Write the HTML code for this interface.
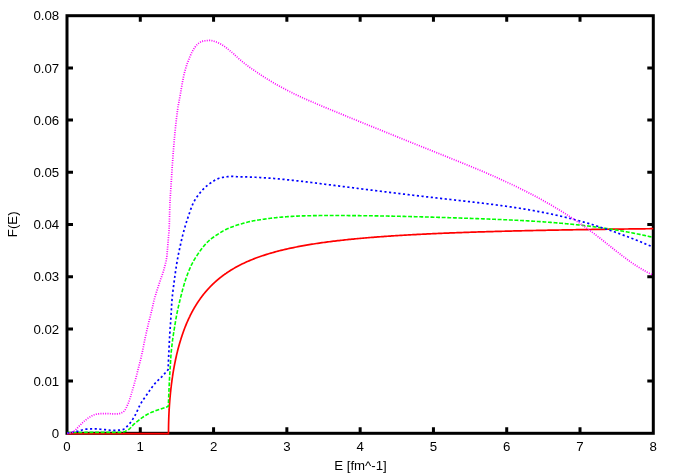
<!DOCTYPE html>
<html><head><meta charset="utf-8"><title>F(E)</title>
<style>
html,body{margin:0;padding:0;background:#fff;}
body{width:676px;height:473px;overflow:hidden;}
svg{display:block;will-change:transform;}
text{font-family:"Liberation Sans",sans-serif;font-size:13.25px;fill:#000;}
</style></head>
<body>
<svg width="676" height="473" viewBox="0 0 676 473">
<rect x="0" y="0" width="676" height="473" fill="#ffffff"/>
<g fill="none" stroke="#000" stroke-width="3" stroke-linecap="butt">
<path d="M140.29,433.30V427.30M140.29,15.70V21.70M213.57,433.30V427.30M213.57,15.70V21.70M286.86,433.30V427.30M286.86,15.70V21.70M360.15,433.30V427.30M360.15,15.70V21.70M433.44,433.30V427.30M433.44,15.70V21.70M506.72,433.30V427.30M506.72,15.70V21.70M580.01,433.30V427.30M580.01,15.70V21.70M67.00,381.10H73.00M653.30,381.10H647.30M67.00,328.90H73.00M653.30,328.90H647.30M67.00,276.70H73.00M653.30,276.70H647.30M67.00,224.50H73.00M653.30,224.50H647.30M67.00,172.30H73.00M653.30,172.30H647.30M67.00,120.10H73.00M653.30,120.10H647.30M67.00,67.90H73.00M653.30,67.90H647.30"/>
<rect x="67.0" y="15.7" width="586.30" height="417.60"/>
</g>
<g fill="none" stroke-linejoin="round" stroke-linecap="butt">
<path d="M67.00,433.70 L168.50,433.70 L168.50,433.27 L168.50,433.22 L168.50,433.15 L168.50,433.07 L168.50,432.98 L168.50,432.88 L168.50,432.78 L168.50,432.66 L168.50,432.54 L168.50,432.41 L168.50,432.27 L168.50,432.12 L168.51,431.97 L168.51,431.82 L168.51,431.66 L168.51,431.49 L168.51,431.32 L168.51,431.14 L168.51,430.96 L168.51,430.77 L168.51,430.58 L168.51,430.38 L168.51,430.18 L168.52,429.98 L168.52,429.77 L168.52,429.55 L168.52,429.33 L168.52,429.11 L168.53,428.88 L168.53,428.65 L168.53,428.42 L168.53,428.18 L168.54,427.94 L168.54,427.70 L168.54,427.45 L168.55,427.19 L168.55,426.94 L168.55,426.68 L168.56,426.42 L168.56,426.15 L168.57,425.88 L168.57,425.61 L168.58,425.33 L168.58,425.05 L168.59,424.77 L168.59,424.48 L168.60,424.19 L168.61,423.90 L168.61,423.61 L168.62,423.31 L168.63,423.01 L168.64,422.71 L168.64,422.40 L168.65,422.09 L168.66,421.78 L168.67,421.46 L168.68,421.15 L168.69,420.83 L168.70,420.50 L168.71,420.18 L168.72,419.85 L168.73,419.52 L168.74,419.18 L168.75,418.85 L168.76,418.51 L168.77,418.17 L168.79,417.82 L168.80,417.48 L168.81,417.13 L168.83,416.78 L168.84,416.42 L168.85,416.07 L168.87,415.71 L168.88,415.35 L168.90,414.99 L168.92,414.62 L168.93,414.25 L168.95,413.88 L168.97,413.51 L168.98,413.14 L169.00,412.76 L169.02,412.38 L169.04,412.00 L169.06,411.62 L169.08,411.23 L169.10,410.85 L169.12,410.46 L169.14,410.07 L169.17,409.67 L169.19,409.28 L169.21,408.88 L169.24,408.48 L169.26,408.08 L169.28,407.68 L169.31,407.27 L169.34,406.86 L169.36,406.45 L169.39,406.04 L169.42,405.63 L169.44,405.22 L169.47,404.80 L169.50,404.38 L169.53,403.96 L169.56,403.54 L169.59,403.12 L169.62,402.69 L169.66,402.26 L169.69,401.84 L169.72,401.41 L169.75,400.97 L169.79,400.54 L169.82,400.10 L169.86,399.67 L169.90,399.23 L169.93,398.79 L169.97,398.35 L170.01,397.90 L170.05,397.46 L170.09,397.01 L170.13,396.57 L170.17,396.12 L170.21,395.67 L170.25,395.21 L170.30,394.76 L170.34,394.31 L170.38,393.85 L170.43,393.39 L170.48,392.93 L170.52,392.47 L170.57,392.01 L170.62,391.55 L170.67,391.08 L170.72,390.62 L170.77,390.15 L170.82,389.68 L170.87,389.22 L170.92,388.75 L170.97,388.27 L171.03,387.80 L171.08,387.33 L171.14,386.85 L171.20,386.38 L171.25,385.90 L171.31,385.42 L171.37,384.94 L171.43,384.46 L171.49,383.98 L171.55,383.50 L171.61,383.02 L171.68,382.53 L171.74,382.05 L171.81,381.56 L171.87,381.07 L171.94,380.58 L172.00,380.10 L172.07,379.61 L172.14,379.12 L172.21,378.62 L172.28,378.13 L172.35,377.64 L172.43,377.15 L172.50,376.65 L172.58,376.16 L172.65,375.66 L172.73,375.16 L172.80,374.67 L172.88,374.17 L172.96,373.67 L173.04,373.17 L173.12,372.67 L173.20,372.17 L173.29,371.67 L173.37,371.17 L173.46,370.66 L173.54,370.16 L173.63,369.66 L173.72,369.15 L173.81,368.65 L173.90,368.14 L173.99,367.64 L174.08,367.13 L174.17,366.63 L174.27,366.12 L174.36,365.61 L174.46,365.11 L174.55,364.60 L174.65,364.09 L174.75,363.58 L174.85,363.07 L174.95,362.57 L175.06,362.06 L175.16,361.55 L175.26,361.04 L175.37,360.53 L175.48,360.02 L175.58,359.51 L175.69,359.00 L175.80,358.49 L175.91,357.98 L176.03,357.47 L176.14,356.96 L176.25,356.45 L176.37,355.93 L176.49,355.42 L176.60,354.91 L176.72,354.40 L176.84,353.89 L176.96,353.38 L177.09,352.87 L177.21,352.36 L177.34,351.85 L177.46,351.34 L177.59,350.83 L177.72,350.32 L177.85,349.81 L177.98,349.30 L178.11,348.79 L178.24,348.28 L178.38,347.77 L178.52,347.26 L178.65,346.75 L178.79,346.24 L178.93,345.74 L179.07,345.23 L179.21,344.72 L179.36,344.21 L179.50,343.71 L179.65,343.20 L179.80,342.69 L179.94,342.19 L180.09,341.68 L180.24,341.18 L180.40,340.67 L180.55,340.17 L180.71,339.67 L180.86,339.16 L181.02,338.66 L181.18,338.16 L181.34,337.66 L181.50,337.16 L181.67,336.66 L181.83,336.16 L182.00,335.66 L182.16,335.16 L182.33,334.66 L182.50,334.16 L182.67,333.67 L182.85,333.17 L183.02,332.67 L183.20,332.18 L183.37,331.69 L183.55,331.19 L183.73,330.70 L183.91,330.21 L184.09,329.72 L184.28,329.23 L184.46,328.74 L184.65,328.25 L184.84,327.76 L185.03,327.28 L185.22,326.79 L185.41,326.30 L185.61,325.82 L185.80,325.34 L186.00,324.85 L186.20,324.37 L186.40,323.89 L186.60,323.41 L186.81,322.93 L187.01,322.46 L187.22,321.98 L187.43,321.50 L187.64,321.03 L187.85,320.55 L188.06,320.08 L188.27,319.61 L188.49,319.14 L188.71,318.67 L188.92,318.20 L189.14,317.73 L189.37,317.27 L189.59,316.80 L189.82,316.34 L190.04,315.87 L190.27,315.41 L190.50,314.95 L190.73,314.49 L190.97,314.03 L191.20,313.58 L191.44,313.12 L191.67,312.66 L191.91,312.21 L192.16,311.76 L192.40,311.31 L192.64,310.86 L192.89,310.41 L193.14,309.96 L193.39,309.51 L193.64,309.07 L193.89,308.62 L194.15,308.18 L194.40,307.74 L194.66,307.30 L194.92,306.86 L195.18,306.42 L195.45,305.99 L195.71,305.55 L195.98,305.12 L196.25,304.69 L196.52,304.26 L196.79,303.83 L197.06,303.40 L197.34,302.97 L197.61,302.55 L197.89,302.12 L198.17,301.70 L198.46,301.28 L198.74,300.86 L199.03,300.44 L199.32,300.03 L199.60,299.61 L199.90,299.20 L200.19,298.78 L200.49,298.37 L200.78,297.96 L201.08,297.56 L201.38,297.15 L201.68,296.74 L201.99,296.34 L202.29,295.94 L202.60,295.54 L202.91,295.14 L203.22,294.74 L203.54,294.34 L203.85,293.95 L204.17,293.56 L204.49,293.16 L204.81,292.77 L205.14,292.38 L205.46,292.00 L205.79,291.61 L206.12,291.23 L206.45,290.84 L206.78,290.46 L207.12,290.08 L207.45,289.70 L207.79,289.33 L208.13,288.95 L208.47,288.58 L208.82,288.21 L209.17,287.84 L209.51,287.47 L209.86,287.10 L210.22,286.73 L210.57,286.37 L210.93,286.01 L211.29,285.65 L211.65,285.29 L212.01,284.93 L212.37,284.57 L212.74,284.22 L213.11,283.86 L213.48,283.51 L213.85,283.16 L214.23,282.81 L214.60,282.46 L214.98,282.12 L215.36,281.77 L215.75,281.43 L216.13,281.09 L216.52,280.75 L216.91,280.41 L217.30,280.08 L217.69,279.74 L218.09,279.41 L218.49,279.08 L218.89,278.75 L219.29,278.42 L219.69,278.09 L220.10,277.77 L220.51,277.44 L220.92,277.12 L221.33,276.80 L221.75,276.48 L222.16,276.16 L222.58,275.85 L223.00,275.53 L223.43,275.22 L223.85,274.91 L224.28,274.60 L224.71,274.29 L225.14,273.98 L225.58,273.68 L226.02,273.38 L226.45,273.07 L226.90,272.77 L227.34,272.47 L227.78,272.18 L228.23,271.88 L229.65,270.96 L231.08,270.07 L232.50,269.21 L233.92,268.37 L235.34,267.56 L236.76,266.77 L238.18,266.01 L239.61,265.26 L241.03,264.54 L242.45,263.84 L243.87,263.16 L245.29,262.50 L246.71,261.85 L248.14,261.23 L249.56,260.62 L250.98,260.02 L252.40,259.45 L253.82,258.88 L255.24,258.33 L256.67,257.80 L258.09,257.28 L259.51,256.77 L260.93,256.27 L262.35,255.79 L263.77,255.32 L265.19,254.86 L266.62,254.41 L268.04,253.97 L269.46,253.54 L270.88,253.12 L272.30,252.71 L273.72,252.31 L275.15,251.92 L276.57,251.54 L277.99,251.17 L279.41,250.80 L280.83,250.44 L282.25,250.09 L283.68,249.75 L285.10,249.42 L286.52,249.09 L287.94,248.77 L289.36,248.45 L290.78,248.14 L292.21,247.84 L293.63,247.55 L295.05,247.26 L296.47,246.97 L297.89,246.70 L299.31,246.42 L300.74,246.16 L302.16,245.89 L303.58,245.64 L305.00,245.39 L306.42,245.14 L307.84,244.90 L309.27,244.66 L310.69,244.42 L312.11,244.20 L313.53,243.97 L314.95,243.75 L316.37,243.53 L317.80,243.32 L319.22,243.11 L320.64,242.91 L322.06,242.70 L323.48,242.51 L324.90,242.31 L326.32,242.12 L327.75,241.93 L329.17,241.75 L330.59,241.57 L332.01,241.39 L333.43,241.21 L334.85,241.04 L336.28,240.87 L337.70,240.70 L339.12,240.54 L340.54,240.38 L341.96,240.22 L343.38,240.06 L344.81,239.91 L346.23,239.76 L347.65,239.61 L349.07,239.46 L350.49,239.32 L351.91,239.18 L353.34,239.04 L354.76,238.90 L356.18,238.76 L357.60,238.63 L359.02,238.50 L360.44,238.37 L361.87,238.24 L363.29,238.12 L364.71,237.99 L366.13,237.87 L367.55,237.75 L368.97,237.63 L370.40,237.52 L371.82,237.40 L373.24,237.29 L374.66,237.18 L376.08,237.07 L377.50,236.96 L378.93,236.85 L380.35,236.75 L381.77,236.64 L383.19,236.54 L384.61,236.44 L386.03,236.34 L387.46,236.24 L388.88,236.14 L390.30,236.05 L391.72,235.95 L393.14,235.86 L394.56,235.77 L395.98,235.68 L397.41,235.59 L398.83,235.50 L400.25,235.42 L401.67,235.33 L403.09,235.25 L404.51,235.16 L405.94,235.08 L407.36,235.00 L408.78,234.92 L410.20,234.84 L411.62,234.76 L413.04,234.68 L414.47,234.61 L415.89,234.53 L417.31,234.46 L418.73,234.38 L420.15,234.31 L421.57,234.24 L423.00,234.17 L424.42,234.10 L425.84,234.03 L427.26,233.96 L428.68,233.89 L430.10,233.83 L431.53,233.76 L432.95,233.70 L434.37,233.63 L435.79,233.57 L437.21,233.51 L438.63,233.44 L440.06,233.38 L441.48,233.32 L442.90,233.26 L444.32,233.20 L445.74,233.14 L447.16,233.09 L448.59,233.03 L450.01,232.97 L451.43,232.92 L452.85,232.86 L454.27,232.81 L455.69,232.75 L457.12,232.70 L458.54,232.65 L459.96,232.59 L461.38,232.54 L462.80,232.49 L464.22,232.44 L465.64,232.39 L467.07,232.34 L468.49,232.29 L469.91,232.24 L471.33,232.20 L472.75,232.15 L474.17,232.10 L475.60,232.06 L477.02,232.01 L478.44,231.97 L479.86,231.92 L481.28,231.88 L482.70,231.83 L484.13,231.79 L485.55,231.75 L486.97,231.70 L488.39,231.66 L489.81,231.62 L491.23,231.58 L492.66,231.54 L494.08,231.50 L495.50,231.46 L496.92,231.42 L498.34,231.38 L499.76,231.34 L501.19,231.30 L502.61,231.26 L504.03,231.23 L505.45,231.19 L506.87,231.15 L508.29,231.11 L509.72,231.08 L511.14,231.04 L512.56,231.01 L513.98,230.97 L515.40,230.94 L516.82,230.90 L518.25,230.87 L519.67,230.83 L521.09,230.80 L522.51,230.77 L523.93,230.73 L525.35,230.70 L526.77,230.67 L528.20,230.64 L529.62,230.61 L531.04,230.58 L532.46,230.54 L533.88,230.51 L535.30,230.48 L536.73,230.45 L538.15,230.42 L539.57,230.39 L540.99,230.36 L542.41,230.33 L543.83,230.31 L545.26,230.28 L546.68,230.25 L548.10,230.22 L549.52,230.19 L550.94,230.17 L552.36,230.14 L553.79,230.11 L555.21,230.08 L556.63,230.06 L558.05,230.03 L559.47,230.00 L560.89,229.98 L562.32,229.95 L563.74,229.93 L565.16,229.90 L566.58,229.88 L568.00,229.85 L569.42,229.83 L570.85,229.80 L572.27,229.78 L573.69,229.76 L575.11,229.73 L576.53,229.71 L577.95,229.68 L579.38,229.66 L580.80,229.64 L582.22,229.62 L583.64,229.59 L585.06,229.57 L586.48,229.55 L587.90,229.53 L589.33,229.50 L590.75,229.48 L592.17,229.46 L593.59,229.44 L595.01,229.42 L596.43,229.40 L597.86,229.38 L599.28,229.36 L600.70,229.34 L602.12,229.32 L603.54,229.30 L604.96,229.28 L606.39,229.26 L607.81,229.24 L609.23,229.22 L610.65,229.20 L612.07,229.18 L613.49,229.16 L614.92,229.14 L616.34,229.12 L617.76,229.10 L619.18,229.08 L620.60,229.07 L622.02,229.05 L623.45,229.03 L624.87,229.01 L626.29,228.99 L627.71,228.98 L629.13,228.96 L630.55,228.94 L631.98,228.92 L633.40,228.91 L634.82,228.89 L636.24,228.87 L637.66,228.86 L639.08,228.84 L640.51,228.82 L641.93,228.81 L643.35,228.79 L644.77,228.78 L646.19,228.76 L647.61,228.74 L649.04,228.73 L650.46,228.71 L651.88,228.70 L653.30,228.68" stroke="#ff0000" stroke-width="1.7"/>
<path d="M67.10,432.50 L67.91,432.50 L68.71,432.49 L69.52,432.49 L70.32,432.48 L71.13,432.48 L71.93,432.48 L72.74,432.47 L73.54,432.47 L74.35,432.47 L75.15,432.46 L75.96,432.46 L76.76,432.46 L77.57,432.45 L78.37,432.45 L79.18,432.45 L79.98,432.44 L80.79,432.44 L81.59,432.44 L82.40,432.43 L83.20,432.43 L84.01,432.43 L84.81,432.43 L85.62,432.42 L86.42,432.42 L87.23,432.42 L88.03,432.42 L88.84,432.41 L89.64,432.41 L90.45,432.41 L91.25,432.41 L92.06,432.41 L92.86,432.41 L93.67,432.40 L94.47,432.40 L95.28,432.40 L96.08,432.40 L96.89,432.40 L97.69,432.40 L98.50,432.40 L99.30,432.40 L100.11,432.40 L100.91,432.40 L101.72,432.40 L102.52,432.40 L103.33,432.40 L104.13,432.40 L104.94,432.40 L105.74,432.40 L106.55,432.40 L107.35,432.40 L108.16,432.40 L108.97,432.40 L109.77,432.40 L110.58,432.40 L111.38,432.40 L112.19,432.40 L112.99,432.40 L113.80,432.40 L114.60,432.40 L115.41,432.40 L116.21,432.40 L117.01,432.40 L117.82,432.40 L118.63,432.39 L119.44,432.37 L120.25,432.33 L121.05,432.28 L121.85,432.22 L122.63,432.13 L123.42,431.97 L124.20,431.73 L124.98,431.43 L125.74,431.10 L126.47,430.74 L127.18,430.37 L127.85,430.00 L128.49,429.58 L129.10,429.10 L129.70,428.58 L130.29,428.02 L130.86,427.44 L131.42,426.84 L131.98,426.23 L132.55,425.62 L133.12,425.02 L133.69,424.43 L134.29,423.88 L134.90,423.35 L135.51,422.83 L136.13,422.31 L136.75,421.79 L137.37,421.28 L138.00,420.78 L138.63,420.28 L139.27,419.78 L139.91,419.29 L140.56,418.82 L141.21,418.35 L141.86,417.89 L142.53,417.43 L143.19,416.97 L143.86,416.52 L144.54,416.08 L145.22,415.64 L145.91,415.21 L146.60,414.80 L147.30,414.40 L148.00,414.01 L148.71,413.64 L149.43,413.29 L150.15,412.95 L150.88,412.62 L151.62,412.30 L152.37,411.99 L153.11,411.69 L153.87,411.39 L154.62,411.10 L155.38,410.81 L156.14,410.53 L156.89,410.26 L157.65,409.98 L158.41,409.72 L159.17,409.46 L159.94,409.21 L160.71,408.97 L161.47,408.73 L162.24,408.49 L163.01,408.24 L163.77,407.98 L164.53,407.71 L165.29,407.43 L166.04,407.16 L166.80,406.88 L167.55,406.59 L168.30,406.30 L168.33,405.50 L168.36,404.70 L168.39,403.90 L168.43,403.10 L168.46,402.30 L168.49,401.50 L168.52,400.70 L168.56,399.90 L168.59,399.10 L168.62,398.30 L168.66,397.50 L168.69,396.70 L168.73,395.90 L168.76,395.10 L168.79,394.30 L168.83,393.50 L168.86,392.70 L168.90,391.90 L168.94,391.10 L168.97,390.30 L169.01,389.50 L169.04,388.70 L169.08,387.90 L169.11,387.10 L169.15,386.30 L169.18,385.50 L169.22,384.70 L169.26,383.90 L169.29,383.11 L169.33,382.31 L169.37,381.51 L169.41,380.71 L169.45,379.91 L169.49,379.11 L169.53,378.31 L169.57,377.51 L169.62,376.71 L169.66,375.91 L169.71,375.11 L169.76,374.31 L169.81,373.51 L169.86,372.71 L169.91,371.92 L169.96,371.12 L170.02,370.32 L170.07,369.52 L170.12,368.72 L170.18,367.92 L170.23,367.12 L170.28,366.32 L170.33,365.52 L170.38,364.73 L170.43,363.93 L170.47,363.13 L170.52,362.33 L170.56,361.53 L170.61,360.73 L170.66,359.93 L170.70,359.13 L170.75,358.33 L170.80,357.53 L170.86,356.73 L170.91,355.93 L170.97,355.14 L171.04,354.34 L171.10,353.54 L171.17,352.74 L171.24,351.95 L171.32,351.15 L171.40,350.35 L171.48,349.56 L171.56,348.76 L171.65,347.96 L171.73,347.17 L171.82,346.37 L171.91,345.58 L172.01,344.78 L172.10,343.99 L172.20,343.19 L172.30,342.40 L172.40,341.60 L172.50,340.81 L172.60,340.01 L172.70,339.22 L172.81,338.43 L172.93,337.64 L173.04,336.84 L173.16,336.05 L173.29,335.26 L173.41,334.47 L173.54,333.68 L173.67,332.89 L173.79,332.10 L173.92,331.31 L174.05,330.52 L174.18,329.73 L174.30,328.94 L174.43,328.15 L174.55,327.35 L174.68,326.56 L174.80,325.77 L174.93,324.98 L175.06,324.19 L175.19,323.40 L175.32,322.61 L175.45,321.82 L175.58,321.03 L175.71,320.24 L175.84,319.45 L175.98,318.66 L176.12,317.87 L176.26,317.09 L176.40,316.30 L176.55,315.51 L176.70,314.73 L176.85,313.94 L177.01,313.16 L177.16,312.37 L177.33,311.59 L177.49,310.81 L177.66,310.02 L177.83,309.24 L178.00,308.46 L178.18,307.68 L178.36,306.90 L178.54,306.12 L178.72,305.34 L178.90,304.56 L179.09,303.78 L179.27,303.00 L179.46,302.22 L179.65,301.44 L179.84,300.66 L180.03,299.89 L180.22,299.11 L180.41,298.33 L180.60,297.55 L180.80,296.78 L180.99,296.00 L181.18,295.22 L181.38,294.44 L181.58,293.67 L181.77,292.89 L181.97,292.11 L182.18,291.34 L182.38,290.56 L182.59,289.79 L182.79,289.01 L183.01,288.24 L183.22,287.47 L183.44,286.70 L183.66,285.93 L183.88,285.16 L184.11,284.39 L184.34,283.63 L184.57,282.86 L184.81,282.10 L185.05,281.34 L185.30,280.58 L185.55,279.82 L185.80,279.06 L186.06,278.30 L186.32,277.54 L186.59,276.78 L186.86,276.03 L187.13,275.27 L187.41,274.52 L187.69,273.76 L187.98,273.01 L188.27,272.26 L188.57,271.52 L188.87,270.77 L189.18,270.03 L189.49,269.29 L189.81,268.56 L190.13,267.83 L190.45,267.10 L190.79,266.38 L191.12,265.66 L191.47,264.95 L191.82,264.24 L192.18,263.53 L192.56,262.82 L192.94,262.11 L193.32,261.41 L193.72,260.71 L194.12,260.02 L194.53,259.32 L194.95,258.63 L195.37,257.95 L195.80,257.27 L196.23,256.59 L196.67,255.91 L197.12,255.24 L197.56,254.57 L198.01,253.91 L198.46,253.25 L198.92,252.60 L199.38,251.95 L199.84,251.30 L200.31,250.65 L200.78,250.00 L201.26,249.35 L201.75,248.71 L202.24,248.07 L202.74,247.43 L203.25,246.80 L203.76,246.17 L204.28,245.55 L204.80,244.94 L205.34,244.34 L205.87,243.75 L206.42,243.17 L206.97,242.60 L207.53,242.04 L208.10,241.50 L208.68,240.97 L209.27,240.45 L209.87,239.93 L210.49,239.43 L211.11,238.93 L211.75,238.44 L212.39,237.95 L213.04,237.48 L213.70,237.01 L214.36,236.54 L215.03,236.08 L215.70,235.63 L216.37,235.18 L217.04,234.74 L217.72,234.30 L218.39,233.86 L219.06,233.43 L219.73,233.00 L220.41,232.58 L221.10,232.15 L221.78,231.73 L222.48,231.32 L223.17,230.92 L223.87,230.53 L224.58,230.15 L225.29,229.79 L226.00,229.44 L226.72,229.10 L227.45,228.78 L228.18,228.46 L228.91,228.15 L229.65,227.84 L230.40,227.54 L231.14,227.25 L231.89,226.96 L232.65,226.68 L233.40,226.40 L234.16,226.13 L234.92,225.87 L235.68,225.61 L236.44,225.35 L237.20,225.10 L237.97,224.86 L238.73,224.62 L239.49,224.39 L240.26,224.15 L241.02,223.92 L241.79,223.70 L242.56,223.47 L243.33,223.25 L244.10,223.03 L244.87,222.82 L245.65,222.61 L246.43,222.41 L247.20,222.21 L247.98,222.01 L248.76,221.82 L249.54,221.64 L250.32,221.46 L251.10,221.29 L251.89,221.12 L252.67,220.96 L253.45,220.81 L254.24,220.67 L255.03,220.53 L255.81,220.40 L256.61,220.28 L257.40,220.16 L258.19,220.04 L258.98,219.92 L259.78,219.81 L260.57,219.69 L261.36,219.57 L262.15,219.45 L262.94,219.33 L263.74,219.21 L264.53,219.09 L265.32,218.97 L266.11,218.86 L266.91,218.75 L267.70,218.64 L268.49,218.54 L269.29,218.43 L270.08,218.33 L270.87,218.23 L271.67,218.14 L272.46,218.04 L273.26,217.95 L274.06,217.86 L274.85,217.78 L275.65,217.69 L276.44,217.61 L277.24,217.53 L278.04,217.45 L278.83,217.37 L279.63,217.30 L280.43,217.22 L281.22,217.15 L282.02,217.08 L282.82,217.02 L283.62,216.95 L284.42,216.89 L285.21,216.83 L286.01,216.77 L286.81,216.71 L287.61,216.65 L288.41,216.60 L289.21,216.55 L290.01,216.50 L290.81,216.45 L291.60,216.40 L292.40,216.36 L293.20,216.31 L294.00,216.27 L294.80,216.23 L295.60,216.19 L296.40,216.15 L297.20,216.11 L298.00,216.08 L298.80,216.05 L299.60,216.01 L300.40,215.98 L301.20,215.95 L302.00,215.92 L302.80,215.90 L303.60,215.87 L304.40,215.85 L305.20,215.82 L306.00,215.80 L306.80,215.78 L307.60,215.76 L308.40,215.74 L309.20,215.72 L310.00,215.71 L310.80,215.69 L311.60,215.67 L312.40,215.66 L313.20,215.65 L314.00,215.63 L314.81,215.62 L315.61,215.61 L316.41,215.60 L317.21,215.59 L318.01,215.59 L318.81,215.58 L319.61,215.57 L320.41,215.56 L321.21,215.56 L322.01,215.55 L322.81,215.55 L323.61,215.54 L324.41,215.54 L325.21,215.54 L326.01,215.54 L326.81,215.53 L327.61,215.53 L328.41,215.53 L329.21,215.53 L330.02,215.53 L330.82,215.53 L331.62,215.53 L332.42,215.53 L333.22,215.53 L334.02,215.53 L334.82,215.53 L335.62,215.53 L336.42,215.53 L337.22,215.53 L338.02,215.53 L338.82,215.54 L339.62,215.54 L340.42,215.54 L341.22,215.54 L342.02,215.55 L342.82,215.55 L343.62,215.55 L344.43,215.56 L345.23,215.56 L346.03,215.57 L346.83,215.57 L347.63,215.57 L348.43,215.58 L349.23,215.58 L350.03,215.59 L350.83,215.59 L351.63,215.60 L352.43,215.61 L353.23,215.61 L354.03,215.62 L354.83,215.63 L355.63,215.63 L356.43,215.64 L357.23,215.65 L358.03,215.65 L358.83,215.66 L359.64,215.67 L360.44,215.68 L361.24,215.69 L362.04,215.69 L362.84,215.70 L363.64,215.71 L364.44,215.72 L365.24,215.73 L366.04,215.74 L366.84,215.75 L367.64,215.76 L368.44,215.77 L369.24,215.78 L370.04,215.79 L370.84,215.80 L371.64,215.81 L372.44,215.82 L373.24,215.83 L374.04,215.85 L374.84,215.86 L375.64,215.87 L376.45,215.88 L377.25,215.89 L378.05,215.91 L378.85,215.92 L379.65,215.93 L380.45,215.95 L381.25,215.96 L382.05,215.97 L382.85,215.99 L383.65,216.00 L384.45,216.01 L385.25,216.03 L386.05,216.04 L386.85,216.06 L387.65,216.07 L388.45,216.09 L389.25,216.10 L390.05,216.12 L390.85,216.13 L391.65,216.15 L392.45,216.16 L393.25,216.18 L394.05,216.20 L394.85,216.21 L395.66,216.23 L396.46,216.25 L397.26,216.26 L398.06,216.28 L398.86,216.30 L399.66,216.32 L400.46,216.33 L401.26,216.35 L402.06,216.37 L402.86,216.39 L403.66,216.40 L404.46,216.42 L405.26,216.44 L406.06,216.46 L406.86,216.48 L407.66,216.50 L408.46,216.52 L409.26,216.54 L410.06,216.56 L410.86,216.58 L411.66,216.60 L412.46,216.62 L413.26,216.64 L414.06,216.66 L414.86,216.68 L415.66,216.70 L416.46,216.72 L417.26,216.74 L418.06,216.76 L418.86,216.78 L419.66,216.80 L420.46,216.82 L421.27,216.84 L422.07,216.87 L422.87,216.89 L423.67,216.91 L424.47,216.93 L425.27,216.95 L426.07,216.98 L426.87,217.00 L427.67,217.02 L428.47,217.04 L429.27,217.07 L430.07,217.09 L430.87,217.11 L431.67,217.14 L432.47,217.16 L433.27,217.18 L434.07,217.21 L434.87,217.23 L435.67,217.25 L436.47,217.28 L437.27,217.30 L438.07,217.33 L438.87,217.35 L439.67,217.37 L440.47,217.40 L441.27,217.42 L442.07,217.45 L442.87,217.47 L443.67,217.50 L444.47,217.52 L445.27,217.55 L446.07,217.57 L446.87,217.60 L447.67,217.63 L448.47,217.65 L449.27,217.68 L450.07,217.70 L450.87,217.73 L451.67,217.76 L452.47,217.78 L453.27,217.81 L454.07,217.83 L454.87,217.86 L455.67,217.89 L456.47,217.91 L457.27,217.94 L458.07,217.97 L458.87,218.00 L459.67,218.02 L460.47,218.05 L461.27,218.08 L462.07,218.10 L462.87,218.13 L463.67,218.16 L464.47,218.19 L465.27,218.21 L466.07,218.24 L466.87,218.27 L467.67,218.30 L468.47,218.33 L469.27,218.35 L470.07,218.38 L470.87,218.41 L471.67,218.44 L472.47,218.47 L473.27,218.50 L474.07,218.53 L474.87,218.55 L475.67,218.58 L476.47,218.61 L477.27,218.64 L478.07,218.67 L478.87,218.70 L479.67,218.73 L480.47,218.76 L481.27,218.79 L482.07,218.82 L482.87,218.85 L483.67,218.88 L484.47,218.91 L485.27,218.94 L486.07,218.97 L486.87,219.00 L487.67,219.03 L488.47,219.06 L489.27,219.09 L490.07,219.12 L490.87,219.15 L491.67,219.18 L492.47,219.21 L493.27,219.24 L494.07,219.28 L494.87,219.31 L495.67,219.34 L496.47,219.37 L497.27,219.41 L498.07,219.44 L498.87,219.47 L499.67,219.50 L500.47,219.54 L501.27,219.57 L502.07,219.61 L502.87,219.64 L503.67,219.68 L504.47,219.71 L505.27,219.75 L506.07,219.78 L506.87,219.82 L507.67,219.85 L508.47,219.89 L509.27,219.93 L510.07,219.96 L510.87,220.00 L511.67,220.04 L512.47,220.08 L513.27,220.11 L514.07,220.15 L514.87,220.19 L515.67,220.23 L516.47,220.27 L517.27,220.31 L518.07,220.35 L518.87,220.39 L519.66,220.43 L520.46,220.48 L521.26,220.52 L522.06,220.56 L522.86,220.60 L523.66,220.65 L524.46,220.69 L525.26,220.73 L526.06,220.78 L526.86,220.82 L527.66,220.87 L528.46,220.91 L529.26,220.96 L530.06,221.01 L530.86,221.06 L531.65,221.10 L532.45,221.15 L533.25,221.20 L534.05,221.25 L534.85,221.30 L535.65,221.35 L536.45,221.40 L537.25,221.45 L538.05,221.50 L538.85,221.55 L539.64,221.61 L540.44,221.66 L541.24,221.71 L542.04,221.77 L542.84,221.82 L543.64,221.88 L544.44,221.94 L545.23,221.99 L546.03,222.05 L546.83,222.11 L547.63,222.17 L548.43,222.22 L549.23,222.28 L550.02,222.34 L550.82,222.41 L551.62,222.47 L552.42,222.53 L553.22,222.59 L554.02,222.65 L554.81,222.72 L555.61,222.78 L556.41,222.85 L557.21,222.91 L558.01,222.98 L558.80,223.05 L559.60,223.12 L560.40,223.18 L561.20,223.25 L561.99,223.32 L562.79,223.39 L563.59,223.47 L564.39,223.54 L565.18,223.61 L565.98,223.68 L566.78,223.76 L567.57,223.83 L568.37,223.91 L569.17,223.99 L569.96,224.06 L570.76,224.14 L571.56,224.22 L572.35,224.30 L573.15,224.38 L573.95,224.46 L574.74,224.54 L575.54,224.62 L576.34,224.71 L577.13,224.79 L577.93,224.88 L578.72,224.96 L579.52,225.05 L580.32,225.14 L581.11,225.23 L581.91,225.31 L582.70,225.40 L583.50,225.49 L584.29,225.59 L585.09,225.68 L585.88,225.77 L586.68,225.87 L587.47,225.96 L588.27,226.06 L589.06,226.15 L589.86,226.25 L590.65,226.35 L591.45,226.45 L592.24,226.55 L593.03,226.65 L593.83,226.75 L594.62,226.86 L595.42,226.96 L596.21,227.06 L597.00,227.17 L597.80,227.28 L598.59,227.38 L599.38,227.49 L600.18,227.60 L600.97,227.71 L601.76,227.82 L602.55,227.94 L603.35,228.05 L604.14,228.17 L604.93,228.28 L605.72,228.40 L606.52,228.51 L607.31,228.63 L608.10,228.75 L608.89,228.87 L609.68,228.99 L610.47,229.12 L611.26,229.24 L612.05,229.36 L612.85,229.49 L613.64,229.62 L614.43,229.74 L615.22,229.87 L616.01,230.00 L616.80,230.13 L617.59,230.26 L618.38,230.40 L619.16,230.53 L619.95,230.66 L620.74,230.80 L621.53,230.94 L622.32,231.08 L623.11,231.21 L623.90,231.35 L624.68,231.50 L625.47,231.64 L626.26,231.78 L627.05,231.93 L627.83,232.07 L628.62,232.22 L629.41,232.37 L630.19,232.52 L630.98,232.67 L631.77,232.82 L632.55,232.97 L633.34,233.12 L634.12,233.28 L634.91,233.43 L635.69,233.59 L636.48,233.75 L637.26,233.91 L638.05,234.07 L638.83,234.23 L639.62,234.40 L640.40,234.56 L641.18,234.72 L641.97,234.89 L642.75,235.06 L643.53,235.23 L644.31,235.40 L645.09,235.57 L645.88,235.74 L646.66,235.92 L647.44,236.09 L648.22,236.27 L649.00,236.44 L649.78,236.62 L650.56,236.80 L651.34,236.98 L652.12,237.17 L652.90,237.35" stroke="#00ff00" stroke-width="1.6" stroke-dasharray="3.9 1.7"/>
<path d="M67.10,433.20 L67.89,433.07 L68.69,432.94 L69.48,432.80 L70.28,432.66 L71.07,432.52 L71.86,432.37 L72.65,432.22 L73.44,432.07 L74.23,431.92 L75.02,431.76 L75.81,431.60 L76.60,431.44 L77.38,431.28 L78.17,431.11 L78.95,430.91 L79.74,430.69 L80.52,430.46 L81.30,430.22 L82.07,429.99 L82.85,429.77 L83.63,429.56 L84.42,429.38 L85.20,429.24 L85.99,429.14 L86.78,429.09 L87.58,429.06 L88.38,429.03 L89.18,429.01 L89.99,428.98 L90.79,428.96 L91.60,428.94 L92.41,428.93 L93.22,428.91 L94.03,428.91 L94.83,428.90 L95.64,428.90 L96.44,428.92 L97.24,428.95 L98.04,429.01 L98.85,429.07 L99.65,429.15 L100.45,429.23 L101.25,429.32 L102.05,429.41 L102.85,429.49 L103.66,429.57 L104.46,429.64 L105.26,429.72 L106.06,429.81 L106.86,429.90 L107.66,429.99 L108.47,430.08 L109.27,430.16 L110.07,430.24 L110.87,430.30 L111.67,430.35 L112.48,430.39 L113.28,430.40 L114.09,430.39 L114.91,430.38 L115.74,430.35 L116.57,430.31 L117.40,430.27 L118.22,430.21 L119.04,430.14 L119.84,430.07 L120.62,429.99 L121.38,429.90 L122.11,429.80 L122.82,429.62 L123.52,429.30 L124.21,428.88 L124.88,428.37 L125.53,427.81 L126.16,427.21 L126.77,426.62 L127.35,426.05 L127.91,425.50 L128.45,424.93 L128.98,424.34 L129.50,423.73 L130.00,423.11 L130.50,422.47 L130.98,421.81 L131.46,421.14 L131.92,420.47 L132.38,419.79 L132.82,419.10 L133.26,418.41 L133.69,417.72 L134.11,417.03 L134.52,416.34 L134.92,415.65 L135.30,414.95 L135.68,414.24 L136.03,413.53 L136.38,412.80 L136.73,412.07 L137.06,411.34 L137.39,410.60 L137.72,409.86 L138.05,409.12 L138.38,408.38 L138.71,407.64 L139.05,406.91 L139.40,406.18 L139.76,405.46 L140.13,404.74 L140.51,404.04 L140.91,403.35 L141.32,402.66 L141.74,401.98 L142.17,401.30 L142.61,400.63 L143.07,399.96 L143.52,399.30 L143.98,398.64 L144.45,397.98 L144.92,397.32 L145.38,396.66 L145.85,396.00 L146.32,395.34 L146.78,394.69 L147.24,394.02 L147.70,393.36 L148.16,392.70 L148.61,392.03 L149.07,391.37 L149.53,390.70 L149.99,390.04 L150.46,389.38 L150.92,388.72 L151.39,388.06 L151.87,387.41 L152.35,386.77 L152.84,386.13 L153.33,385.49 L153.83,384.87 L154.34,384.25 L154.85,383.64 L155.38,383.04 L155.93,382.46 L156.49,381.88 L157.05,381.31 L157.63,380.75 L158.21,380.19 L158.80,379.64 L159.39,379.08 L159.97,378.53 L160.56,377.97 L161.13,377.40 L161.70,376.83 L162.25,376.25 L162.80,375.66 L163.34,375.06 L163.88,374.47 L164.42,373.87 L164.96,373.27 L165.49,372.67 L166.02,372.06 L166.54,371.45 L167.06,370.83 L167.58,370.22 L168.10,369.60 L168.13,368.80 L168.16,368.00 L168.20,367.20 L168.23,366.40 L168.26,365.60 L168.29,364.80 L168.33,364.00 L168.36,363.20 L168.39,362.40 L168.43,361.60 L168.46,360.80 L168.50,360.00 L168.53,359.20 L168.57,358.41 L168.60,357.61 L168.64,356.81 L168.68,356.01 L168.71,355.21 L168.75,354.41 L168.79,353.61 L168.82,352.81 L168.86,352.01 L168.90,351.21 L168.93,350.41 L168.97,349.61 L169.01,348.81 L169.05,348.01 L169.09,347.21 L169.13,346.41 L169.16,345.61 L169.20,344.81 L169.24,344.02 L169.28,343.22 L169.32,342.42 L169.37,341.62 L169.41,340.82 L169.45,340.02 L169.49,339.22 L169.54,338.42 L169.58,337.62 L169.62,336.82 L169.67,336.02 L169.72,335.22 L169.76,334.43 L169.81,333.63 L169.86,332.83 L169.91,332.03 L169.97,331.23 L170.02,330.43 L170.08,329.63 L170.13,328.84 L170.19,328.04 L170.24,327.24 L170.30,326.44 L170.36,325.64 L170.41,324.84 L170.47,324.05 L170.53,323.25 L170.58,322.45 L170.64,321.65 L170.70,320.85 L170.75,320.05 L170.80,319.26 L170.86,318.46 L170.91,317.66 L170.96,316.86 L171.01,316.06 L171.06,315.26 L171.10,314.46 L171.15,313.66 L171.19,312.86 L171.24,312.06 L171.28,311.26 L171.33,310.47 L171.37,309.67 L171.42,308.87 L171.46,308.07 L171.51,307.27 L171.56,306.47 L171.60,305.67 L171.65,304.87 L171.70,304.07 L171.76,303.27 L171.81,302.48 L171.87,301.68 L171.93,300.88 L171.99,300.08 L172.06,299.29 L172.13,298.49 L172.20,297.70 L172.28,296.90 L172.36,296.10 L172.44,295.31 L172.52,294.51 L172.61,293.72 L172.70,292.92 L172.80,292.13 L172.89,291.33 L172.99,290.54 L173.08,289.74 L173.18,288.95 L173.29,288.15 L173.39,287.36 L173.49,286.56 L173.60,285.77 L173.70,284.98 L173.81,284.18 L173.91,283.39 L174.02,282.59 L174.12,281.80 L174.23,281.01 L174.33,280.21 L174.44,279.42 L174.54,278.63 L174.65,277.83 L174.75,277.04 L174.86,276.25 L174.97,275.45 L175.08,274.66 L175.19,273.87 L175.30,273.08 L175.41,272.28 L175.52,271.49 L175.64,270.70 L175.75,269.90 L175.87,269.11 L175.99,268.32 L176.11,267.53 L176.23,266.74 L176.35,265.95 L176.48,265.16 L176.61,264.37 L176.74,263.58 L176.87,262.79 L177.00,262.00 L177.14,261.21 L177.27,260.43 L177.42,259.64 L177.56,258.85 L177.71,258.06 L177.85,257.28 L178.01,256.49 L178.16,255.71 L178.31,254.92 L178.47,254.14 L178.63,253.35 L178.79,252.57 L178.95,251.78 L179.12,251.00 L179.29,250.22 L179.45,249.43 L179.62,248.65 L179.79,247.87 L179.96,247.09 L180.13,246.30 L180.31,245.52 L180.48,244.74 L180.65,243.96 L180.83,243.18 L181.01,242.40 L181.18,241.62 L181.36,240.84 L181.55,240.06 L181.73,239.28 L181.91,238.50 L182.10,237.72 L182.29,236.94 L182.48,236.17 L182.68,235.39 L182.87,234.61 L183.07,233.84 L183.27,233.06 L183.47,232.29 L183.68,231.52 L183.89,230.74 L184.10,229.97 L184.31,229.20 L184.53,228.43 L184.75,227.66 L184.97,226.90 L185.20,226.13 L185.43,225.36 L185.66,224.60 L185.90,223.83 L186.14,223.07 L186.38,222.30 L186.63,221.54 L186.87,220.78 L187.12,220.02 L187.37,219.26 L187.63,218.50 L187.88,217.74 L188.14,216.98 L188.39,216.22 L188.65,215.46 L188.90,214.70 L189.16,213.93 L189.41,213.17 L189.67,212.40 L189.92,211.63 L190.18,210.87 L190.45,210.10 L190.71,209.34 L190.99,208.59 L191.26,207.83 L191.55,207.08 L191.84,206.34 L192.14,205.60 L192.45,204.87 L192.77,204.15 L193.10,203.43 L193.44,202.72 L193.79,202.03 L194.16,201.33 L194.55,200.63 L194.95,199.94 L195.37,199.26 L195.80,198.58 L196.24,197.90 L196.69,197.23 L197.16,196.56 L197.63,195.90 L198.12,195.25 L198.61,194.60 L199.10,193.96 L199.61,193.34 L200.12,192.72 L200.63,192.10 L201.15,191.50 L201.67,190.91 L202.19,190.33 L202.74,189.74 L203.29,189.16 L203.85,188.58 L204.43,188.01 L205.02,187.45 L205.61,186.89 L206.21,186.35 L206.83,185.82 L207.45,185.30 L208.07,184.79 L208.71,184.30 L209.34,183.83 L209.99,183.38 L210.64,182.94 L211.30,182.51 L211.97,182.07 L212.65,181.62 L213.34,181.19 L214.04,180.76 L214.75,180.34 L215.47,179.94 L216.19,179.55 L216.92,179.19 L217.66,178.85 L218.40,178.54 L219.15,178.26 L219.89,178.03 L220.65,177.83 L221.40,177.67 L222.16,177.52 L222.94,177.37 L223.72,177.22 L224.51,177.08 L225.31,176.96 L226.11,176.84 L226.91,176.73 L227.72,176.63 L228.53,176.55 L229.33,176.49 L230.14,176.44 L230.94,176.41 L231.74,176.40 L232.54,176.42 L233.34,176.46 L234.14,176.51 L234.94,176.57 L235.73,176.64 L236.53,176.70 L237.33,176.74 L238.13,176.77 L238.93,176.78 L239.73,176.79 L240.53,176.79 L241.34,176.80 L242.14,176.81 L242.94,176.83 L243.74,176.84 L244.54,176.86 L245.34,176.88 L246.14,176.90 L246.94,176.92 L247.74,176.95 L248.54,176.97 L249.34,177.00 L250.14,177.03 L250.94,177.06 L251.73,177.09 L252.53,177.13 L253.33,177.16 L254.13,177.20 L254.93,177.23 L255.73,177.27 L256.53,177.31 L257.33,177.35 L258.13,177.40 L258.93,177.44 L259.73,177.49 L260.53,177.53 L261.33,177.58 L262.12,177.63 L262.92,177.68 L263.72,177.73 L264.52,177.79 L265.32,177.84 L266.12,177.89 L266.92,177.95 L267.71,178.01 L268.51,178.07 L269.31,178.13 L270.11,178.19 L270.91,178.25 L271.70,178.31 L272.50,178.38 L273.30,178.44 L274.10,178.51 L274.89,178.58 L275.69,178.65 L276.49,178.72 L277.29,178.79 L278.08,178.86 L278.88,178.93 L279.68,179.00 L280.47,179.08 L281.27,179.15 L282.07,179.23 L282.86,179.30 L283.66,179.38 L284.46,179.46 L285.25,179.54 L286.05,179.62 L286.85,179.70 L287.64,179.78 L288.44,179.86 L289.23,179.95 L290.03,180.03 L290.83,180.12 L291.62,180.20 L292.42,180.29 L293.21,180.37 L294.01,180.46 L294.80,180.55 L295.60,180.64 L296.39,180.73 L297.19,180.82 L297.99,180.91 L298.78,181.00 L299.58,181.09 L300.37,181.18 L301.17,181.28 L301.96,181.37 L302.76,181.46 L303.55,181.56 L304.34,181.65 L305.14,181.75 L305.93,181.84 L306.73,181.94 L307.52,182.03 L308.32,182.13 L309.11,182.23 L309.91,182.33 L310.70,182.42 L311.49,182.52 L312.29,182.62 L313.08,182.72 L313.88,182.82 L314.67,182.92 L315.47,183.02 L316.26,183.12 L317.05,183.22 L317.85,183.32 L318.64,183.42 L319.44,183.52 L320.23,183.62 L321.02,183.72 L321.82,183.82 L322.61,183.92 L323.40,184.02 L324.20,184.13 L324.99,184.23 L325.79,184.33 L326.58,184.43 L327.37,184.53 L328.17,184.63 L328.96,184.74 L329.76,184.84 L330.55,184.94 L331.34,185.04 L332.14,185.14 L332.93,185.25 L333.72,185.35 L334.52,185.45 L335.31,185.55 L336.11,185.65 L336.90,185.75 L337.69,185.86 L338.49,185.96 L339.28,186.06 L340.08,186.16 L340.87,186.26 L341.66,186.36 L342.46,186.47 L343.25,186.57 L344.04,186.67 L344.84,186.77 L345.63,186.87 L346.43,186.97 L347.22,187.07 L348.01,187.17 L348.81,187.27 L349.60,187.38 L350.40,187.48 L351.19,187.58 L351.98,187.68 L352.78,187.78 L353.57,187.88 L354.37,187.98 L355.16,188.08 L355.95,188.18 L356.75,188.28 L357.54,188.38 L358.34,188.48 L359.13,188.58 L359.92,188.68 L360.72,188.78 L361.51,188.88 L362.31,188.98 L363.10,189.08 L363.89,189.18 L364.69,189.28 L365.48,189.38 L366.28,189.48 L367.07,189.58 L367.86,189.68 L368.66,189.78 L369.45,189.88 L370.25,189.98 L371.04,190.08 L371.83,190.18 L372.63,190.28 L373.42,190.38 L374.22,190.48 L375.01,190.57 L375.81,190.67 L376.60,190.77 L377.39,190.87 L378.19,190.97 L378.98,191.07 L379.78,191.17 L380.57,191.27 L381.36,191.36 L382.16,191.46 L382.95,191.56 L383.75,191.66 L384.54,191.76 L385.34,191.85 L386.13,191.95 L386.92,192.05 L387.72,192.15 L388.51,192.24 L389.31,192.34 L390.10,192.44 L390.90,192.54 L391.69,192.63 L392.49,192.73 L393.28,192.83 L394.07,192.92 L394.87,193.02 L395.66,193.12 L396.46,193.22 L397.25,193.31 L398.05,193.41 L398.84,193.50 L399.64,193.60 L400.43,193.70 L401.22,193.79 L402.02,193.89 L402.81,193.98 L403.61,194.08 L404.40,194.18 L405.20,194.27 L405.99,194.37 L406.79,194.46 L407.58,194.56 L408.38,194.65 L409.17,194.75 L409.97,194.84 L410.76,194.94 L411.55,195.03 L412.35,195.13 L413.14,195.22 L413.94,195.32 L414.73,195.41 L415.53,195.50 L416.32,195.60 L417.12,195.69 L417.91,195.79 L418.71,195.88 L419.50,195.97 L420.30,196.07 L421.09,196.16 L421.89,196.25 L422.68,196.35 L423.48,196.44 L424.27,196.53 L425.07,196.62 L425.86,196.72 L426.66,196.81 L427.45,196.90 L428.25,196.99 L429.04,197.09 L429.84,197.18 L430.63,197.27 L431.43,197.36 L432.22,197.45 L433.02,197.54 L433.81,197.64 L434.61,197.73 L435.40,197.82 L436.20,197.91 L436.99,198.00 L437.79,198.09 L438.58,198.18 L439.38,198.27 L440.17,198.36 L440.97,198.45 L441.76,198.54 L442.56,198.63 L443.35,198.72 L444.15,198.81 L444.94,198.90 L445.74,198.99 L446.54,199.08 L447.33,199.17 L448.13,199.26 L448.92,199.34 L449.72,199.43 L450.51,199.52 L451.31,199.61 L452.10,199.70 L452.90,199.79 L453.69,199.88 L454.49,199.97 L455.28,200.06 L456.08,200.15 L456.87,200.24 L457.67,200.32 L458.47,200.41 L459.26,200.50 L460.06,200.59 L460.85,200.68 L461.65,200.77 L462.44,200.86 L463.24,200.95 L464.03,201.04 L464.83,201.13 L465.62,201.22 L466.42,201.31 L467.21,201.40 L468.01,201.49 L468.80,201.59 L469.60,201.68 L470.39,201.77 L471.19,201.86 L471.98,201.95 L472.78,202.04 L473.57,202.14 L474.37,202.23 L475.16,202.32 L475.96,202.42 L476.75,202.51 L477.55,202.60 L478.34,202.70 L479.14,202.79 L479.93,202.89 L480.73,202.98 L481.52,203.08 L482.32,203.17 L483.11,203.27 L483.90,203.37 L484.70,203.46 L485.49,203.56 L486.29,203.66 L487.08,203.76 L487.88,203.86 L488.67,203.96 L489.46,204.06 L490.26,204.16 L491.05,204.26 L491.85,204.36 L492.64,204.46 L493.43,204.56 L494.23,204.67 L495.02,204.77 L495.81,204.87 L496.61,204.98 L497.40,205.08 L498.19,205.19 L498.99,205.29 L499.78,205.40 L500.57,205.51 L501.37,205.62 L502.16,205.72 L502.95,205.83 L503.75,205.94 L504.54,206.05 L505.33,206.16 L506.12,206.28 L506.92,206.39 L507.71,206.50 L508.50,206.61 L509.29,206.73 L510.08,206.84 L510.88,206.96 L511.67,207.08 L512.46,207.19 L513.25,207.31 L514.04,207.43 L514.83,207.55 L515.62,207.67 L516.42,207.79 L517.21,207.91 L518.00,208.04 L518.79,208.16 L519.58,208.28 L520.37,208.41 L521.16,208.54 L521.95,208.66 L522.74,208.79 L523.53,208.92 L524.32,209.05 L525.11,209.18 L525.90,209.31 L526.69,209.44 L527.48,209.58 L528.27,209.71 L529.06,209.84 L529.84,209.98 L530.63,210.12 L531.42,210.26 L532.21,210.39 L533.00,210.53 L533.78,210.67 L534.57,210.82 L535.36,210.96 L536.15,211.10 L536.93,211.25 L537.72,211.39 L538.51,211.54 L539.29,211.69 L540.08,211.84 L540.87,211.99 L541.65,212.14 L542.44,212.29 L543.22,212.44 L544.01,212.60 L544.79,212.75 L545.58,212.91 L546.36,213.07 L547.15,213.23 L547.93,213.39 L548.72,213.55 L549.50,213.71 L550.28,213.87 L551.07,214.04 L551.85,214.20 L552.63,214.37 L553.42,214.54 L554.20,214.71 L554.98,214.88 L555.76,215.05 L556.54,215.22 L557.32,215.40 L558.10,215.57 L558.89,215.75 L559.67,215.92 L560.45,216.10 L561.23,216.28 L562.00,216.47 L562.78,216.65 L563.56,216.83 L564.34,217.02 L565.12,217.21 L565.90,217.39 L566.67,217.58 L567.45,217.77 L568.23,217.97 L569.01,218.16 L569.78,218.35 L570.56,218.55 L571.33,218.75 L572.11,218.95 L572.88,219.15 L573.66,219.35 L574.43,219.55 L575.21,219.75 L575.98,219.96 L576.75,220.17 L577.53,220.37 L578.30,220.58 L579.07,220.79 L579.84,221.00 L580.61,221.22 L581.38,221.43 L582.16,221.65 L582.93,221.86 L583.70,222.08 L584.47,222.30 L585.23,222.52 L586.00,222.74 L586.77,222.97 L587.54,223.19 L588.31,223.42 L589.08,223.64 L589.84,223.87 L590.61,224.10 L591.38,224.33 L592.14,224.56 L592.91,224.80 L593.67,225.03 L594.44,225.27 L595.20,225.50 L595.97,225.74 L596.73,225.98 L597.49,226.22 L598.26,226.46 L599.02,226.71 L599.78,226.95 L600.54,227.19 L601.31,227.44 L602.07,227.69 L602.83,227.94 L603.59,228.19 L604.35,228.44 L605.11,228.69 L605.87,228.94 L606.62,229.20 L607.38,229.45 L608.14,229.71 L608.90,229.97 L609.66,230.23 L610.41,230.49 L611.17,230.75 L611.93,231.01 L612.68,231.27 L613.44,231.54 L614.19,231.80 L614.95,232.07 L615.70,232.34 L616.45,232.61 L617.21,232.88 L617.96,233.15 L618.71,233.42 L619.47,233.69 L620.22,233.97 L620.97,234.24 L621.72,234.52 L622.47,234.80 L623.22,235.08 L623.97,235.36 L624.72,235.64 L625.47,235.92 L626.22,236.20 L626.97,236.49 L627.71,236.77 L628.46,237.06 L629.21,237.34 L629.95,237.63 L630.70,237.92 L631.45,238.21 L632.19,238.50 L632.94,238.79 L633.68,239.09 L634.43,239.38 L635.17,239.68 L635.91,239.97 L636.66,240.27 L637.40,240.57 L638.14,240.87 L638.88,241.17 L639.62,241.47 L640.36,241.77 L641.11,242.08 L641.85,242.38 L642.59,242.69 L643.32,242.99 L644.06,243.30 L644.80,243.61 L645.54,243.92 L646.28,244.23 L647.02,244.54 L647.75,244.85 L648.49,245.16 L649.23,245.48 L649.96,245.79 L650.70,246.11 L651.43,246.43 L652.17,246.74 L652.90,247.06" stroke="#0000ff" stroke-width="1.7" stroke-dasharray="2.15 2.52"/>
<path d="M67.30,433.40 L68.10,433.33 L68.90,433.21 L69.68,433.06 L70.46,432.89 L71.24,432.67 L72.01,432.40 L72.73,432.08 L73.40,431.71 L74.02,431.26 L74.62,430.73 L75.21,430.15 L75.78,429.55 L76.34,428.96 L76.92,428.38 L77.49,427.83 L78.06,427.26 L78.62,426.70 L79.18,426.12 L79.74,425.55 L80.30,424.98 L80.86,424.41 L81.43,423.84 L82.00,423.28 L82.59,422.74 L83.17,422.19 L83.76,421.64 L84.35,421.10 L84.96,420.58 L85.57,420.07 L86.19,419.57 L86.83,419.09 L87.48,418.61 L88.14,418.15 L88.80,417.71 L89.48,417.28 L90.16,416.86 L90.85,416.44 L91.55,416.03 L92.26,415.66 L92.98,415.33 L93.71,415.04 L94.47,414.77 L95.24,414.51 L96.01,414.27 L96.80,414.08 L97.58,413.95 L98.37,413.87 L99.16,413.81 L99.95,413.75 L100.75,413.71 L101.56,413.67 L102.36,413.64 L103.16,413.61 L103.97,413.60 L104.77,413.60 L105.57,413.61 L106.37,413.62 L107.18,413.64 L107.98,413.66 L108.78,413.69 L109.59,413.71 L110.39,413.74 L111.20,413.77 L112.00,413.80 L112.80,413.83 L113.60,413.85 L114.40,413.87 L115.19,413.89 L115.98,413.90 L116.77,413.90 L117.57,413.86 L118.41,413.75 L119.25,413.58 L120.07,413.36 L120.87,413.10 L121.60,412.82 L122.26,412.52 L122.83,412.20 L123.38,411.79 L123.90,411.29 L124.39,410.71 L124.87,410.07 L125.33,409.37 L125.76,408.62 L126.18,407.85 L126.57,407.06 L126.95,406.26 L127.31,405.47 L127.66,404.69 L127.99,403.94 L128.31,403.22 L128.61,402.50 L128.89,401.76 L129.16,401.01 L129.43,400.26 L129.68,399.50 L129.92,398.73 L130.16,397.96 L130.39,397.18 L130.62,396.41 L130.84,395.63 L131.07,394.86 L131.30,394.09 L131.53,393.32 L131.77,392.56 L132.00,391.79 L132.24,391.03 L132.47,390.26 L132.70,389.49 L132.92,388.73 L133.15,387.96 L133.38,387.19 L133.60,386.42 L133.82,385.65 L134.04,384.88 L134.26,384.11 L134.47,383.34 L134.69,382.57 L134.90,381.80 L135.11,381.03 L135.32,380.26 L135.53,379.48 L135.73,378.71 L135.93,377.93 L136.13,377.16 L136.32,376.38 L136.52,375.61 L136.71,374.83 L136.91,374.05 L137.10,373.28 L137.30,372.50 L137.49,371.72 L137.69,370.95 L137.88,370.17 L138.08,369.40 L138.28,368.62 L138.48,367.85 L138.69,367.07 L138.89,366.30 L139.09,365.52 L139.29,364.75 L139.49,363.97 L139.69,363.20 L139.89,362.42 L140.09,361.65 L140.29,360.87 L140.48,360.10 L140.68,359.32 L140.87,358.54 L141.06,357.77 L141.24,356.99 L141.42,356.21 L141.60,355.43 L141.78,354.65 L141.95,353.87 L142.12,353.09 L142.28,352.31 L142.44,351.52 L142.60,350.74 L142.76,349.95 L142.92,349.17 L143.07,348.38 L143.22,347.60 L143.38,346.81 L143.53,346.03 L143.68,345.24 L143.83,344.45 L143.99,343.67 L144.14,342.88 L144.29,342.10 L144.45,341.31 L144.61,340.53 L144.77,339.74 L144.94,338.96 L145.10,338.18 L145.27,337.40 L145.45,336.62 L145.62,335.83 L145.80,335.05 L145.97,334.27 L146.15,333.49 L146.33,332.71 L146.51,331.93 L146.69,331.15 L146.87,330.38 L147.05,329.60 L147.24,328.82 L147.42,328.04 L147.61,327.26 L147.79,326.48 L147.98,325.70 L148.16,324.92 L148.35,324.15 L148.54,323.37 L148.72,322.59 L148.91,321.81 L149.10,321.03 L149.29,320.26 L149.48,319.48 L149.67,318.70 L149.87,317.93 L150.06,317.15 L150.26,316.37 L150.45,315.60 L150.64,314.82 L150.84,314.05 L151.03,313.27 L151.22,312.49 L151.42,311.72 L151.61,310.94 L151.80,310.16 L151.98,309.38 L152.17,308.60 L152.35,307.83 L152.53,307.05 L152.71,306.26 L152.88,305.48 L153.06,304.70 L153.24,303.92 L153.41,303.14 L153.59,302.36 L153.78,301.58 L153.97,300.80 L154.16,300.03 L154.36,299.26 L154.57,298.49 L154.78,297.72 L155.00,296.95 L155.22,296.18 L155.45,295.41 L155.68,294.64 L155.91,293.88 L156.15,293.11 L156.39,292.35 L156.63,291.59 L156.87,290.82 L157.11,290.06 L157.36,289.30 L157.61,288.54 L157.85,287.77 L158.10,287.01 L158.35,286.25 L158.59,285.49 L158.84,284.73 L159.09,283.97 L159.33,283.20 L159.58,282.44 L159.83,281.68 L160.09,280.92 L160.35,280.17 L160.61,279.41 L160.88,278.65 L161.14,277.90 L161.41,277.14 L161.68,276.38 L161.94,275.63 L162.20,274.87 L162.46,274.11 L162.72,273.36 L162.97,272.60 L163.22,271.84 L163.46,271.07 L163.69,270.31 L163.91,269.54 L164.13,268.77 L164.33,268.00 L164.54,267.23 L164.75,266.46 L164.95,265.68 L165.16,264.91 L165.36,264.13 L165.55,263.35 L165.73,262.57 L165.91,261.78 L166.08,261.00 L166.23,260.22 L166.38,259.43 L166.51,258.64 L166.62,257.85 L166.72,257.07 L166.82,256.27 L166.91,255.48 L166.99,254.68 L167.07,253.89 L167.14,253.09 L167.21,252.29 L167.28,251.49 L167.35,250.69 L167.42,249.89 L167.49,249.10 L167.56,248.30 L167.63,247.50 L167.70,246.70 L167.77,245.91 L167.84,245.11 L167.90,244.31 L167.97,243.51 L168.04,242.72 L168.10,241.92 L168.17,241.12 L168.23,240.32 L168.30,239.53 L168.36,238.73 L168.43,237.93 L168.50,237.13 L168.57,236.34 L168.64,235.54 L168.72,234.74 L168.79,233.95 L168.87,233.15 L168.94,232.35 L169.00,231.55 L169.06,230.76 L169.10,229.96 L169.14,229.16 L169.18,228.36 L169.21,227.56 L169.24,226.76 L169.27,225.96 L169.30,225.16 L169.33,224.37 L169.36,223.57 L169.38,222.77 L169.40,221.97 L169.43,221.17 L169.45,220.37 L169.47,219.57 L169.49,218.77 L169.51,217.97 L169.53,217.16 L169.55,216.36 L169.57,215.56 L169.59,214.76 L169.60,213.96 L169.62,213.16 L169.64,212.36 L169.67,211.56 L169.69,210.76 L169.71,209.96 L169.73,209.16 L169.76,208.36 L169.78,207.56 L169.81,206.76 L169.84,205.96 L169.87,205.16 L169.90,204.36 L169.94,203.57 L169.97,202.77 L170.01,201.97 L170.05,201.17 L170.09,200.37 L170.13,199.57 L170.18,198.77 L170.22,197.97 L170.27,197.17 L170.32,196.37 L170.37,195.58 L170.41,194.78 L170.47,193.98 L170.52,193.18 L170.57,192.38 L170.62,191.58 L170.67,190.78 L170.73,189.99 L170.78,189.19 L170.83,188.39 L170.89,187.59 L170.94,186.79 L170.99,185.99 L171.05,185.19 L171.10,184.40 L171.15,183.60 L171.20,182.80 L171.26,182.00 L171.31,181.20 L171.36,180.40 L171.41,179.60 L171.46,178.81 L171.51,178.01 L171.56,177.21 L171.61,176.41 L171.66,175.61 L171.71,174.81 L171.76,174.01 L171.81,173.22 L171.86,172.42 L171.91,171.62 L171.97,170.82 L172.02,170.02 L172.07,169.22 L172.12,168.42 L172.18,167.63 L172.23,166.83 L172.28,166.03 L172.34,165.23 L172.39,164.43 L172.45,163.63 L172.50,162.84 L172.56,162.04 L172.61,161.24 L172.67,160.44 L172.73,159.64 L172.78,158.84 L172.84,158.05 L172.90,157.25 L172.96,156.45 L173.02,155.65 L173.08,154.85 L173.14,154.06 L173.20,153.26 L173.26,152.46 L173.32,151.66 L173.38,150.87 L173.44,150.07 L173.51,149.27 L173.57,148.47 L173.64,147.67 L173.70,146.88 L173.77,146.08 L173.83,145.28 L173.90,144.48 L173.97,143.69 L174.04,142.89 L174.10,142.09 L174.17,141.30 L174.24,140.50 L174.31,139.70 L174.39,138.90 L174.46,138.11 L174.53,137.31 L174.60,136.51 L174.68,135.72 L174.75,134.92 L174.83,134.12 L174.90,133.33 L174.98,132.53 L175.06,131.73 L175.14,130.94 L175.22,130.14 L175.30,129.34 L175.38,128.55 L175.46,127.75 L175.54,126.96 L175.63,126.16 L175.71,125.37 L175.80,124.57 L175.89,123.78 L175.97,122.98 L176.06,122.18 L176.15,121.39 L176.24,120.59 L176.33,119.80 L176.42,119.00 L176.52,118.21 L176.61,117.41 L176.71,116.62 L176.81,115.82 L176.90,115.03 L177.01,114.23 L177.11,113.44 L177.21,112.65 L177.32,111.85 L177.43,111.06 L177.54,110.27 L177.65,109.48 L177.76,108.69 L177.88,107.90 L178.00,107.11 L178.13,106.32 L178.26,105.53 L178.40,104.74 L178.54,103.95 L178.68,103.17 L178.83,102.38 L178.98,101.59 L179.14,100.81 L179.29,100.02 L179.44,99.24 L179.60,98.45 L179.75,97.66 L179.90,96.88 L180.05,96.09 L180.19,95.30 L180.33,94.52 L180.47,93.73 L180.60,92.94 L180.74,92.15 L180.87,91.36 L181.00,90.57 L181.13,89.78 L181.26,88.99 L181.39,88.20 L181.52,87.41 L181.66,86.62 L181.79,85.83 L181.93,85.05 L182.08,84.26 L182.22,83.47 L182.37,82.69 L182.52,81.90 L182.67,81.11 L182.83,80.33 L182.98,79.54 L183.14,78.75 L183.30,77.97 L183.46,77.18 L183.63,76.40 L183.79,75.62 L183.97,74.84 L184.15,74.06 L184.33,73.28 L184.52,72.50 L184.71,71.73 L184.91,70.96 L185.12,70.19 L185.34,69.42 L185.57,68.65 L185.80,67.89 L186.04,67.12 L186.29,66.36 L186.55,65.60 L186.81,64.84 L187.07,64.08 L187.34,63.33 L187.62,62.57 L187.90,61.82 L188.18,61.08 L188.46,60.33 L188.75,59.59 L189.04,58.84 L189.34,58.09 L189.64,57.34 L189.95,56.59 L190.26,55.85 L190.59,55.11 L190.92,54.38 L191.26,53.65 L191.61,52.93 L191.97,52.22 L192.34,51.52 L192.72,50.84 L193.12,50.15 L193.53,49.45 L193.96,48.75 L194.40,48.05 L194.86,47.35 L195.34,46.67 L195.84,46.01 L196.35,45.39 L196.88,44.80 L197.43,44.25 L198.00,43.76 L198.60,43.31 L199.25,42.86 L199.94,42.43 L200.67,42.02 L201.42,41.66 L202.18,41.35 L202.95,41.12 L203.71,40.97 L204.48,40.84 L205.27,40.73 L206.07,40.63 L206.88,40.55 L207.69,40.48 L208.50,40.43 L209.30,40.40 L210.09,40.41 L210.88,40.48 L211.66,40.62 L212.45,40.80 L213.23,41.02 L214.01,41.27 L214.78,41.53 L215.54,41.78 L216.29,42.03 L217.03,42.31 L217.77,42.62 L218.50,42.95 L219.23,43.31 L219.95,43.68 L220.65,44.07 L221.35,44.47 L222.04,44.87 L222.72,45.27 L223.39,45.70 L224.05,46.14 L224.70,46.60 L225.35,47.07 L225.99,47.55 L226.63,48.04 L227.26,48.54 L227.89,49.04 L228.52,49.55 L229.14,50.06 L229.76,50.58 L230.38,51.09 L230.99,51.60 L231.61,52.11 L232.21,52.63 L232.81,53.15 L233.41,53.69 L234.00,54.23 L234.59,54.77 L235.18,55.32 L235.76,55.86 L236.35,56.41 L236.94,56.95 L237.53,57.50 L238.12,58.04 L238.71,58.57 L239.31,59.10 L239.92,59.62 L240.53,60.13 L241.15,60.65 L241.76,61.16 L242.38,61.67 L243.00,62.18 L243.62,62.68 L244.24,63.18 L244.87,63.68 L245.50,64.18 L246.13,64.67 L246.76,65.16 L247.40,65.65 L248.04,66.13 L248.68,66.61 L249.32,67.08 L249.97,67.55 L250.62,68.01 L251.28,68.46 L251.94,68.92 L252.60,69.37 L253.27,69.82 L253.93,70.26 L254.59,70.71 L255.26,71.16 L255.92,71.61 L256.58,72.07 L257.24,72.52 L257.90,72.97 L258.56,73.42 L259.22,73.87 L259.88,74.32 L260.55,74.77 L261.21,75.21 L261.88,75.65 L262.55,76.09 L263.22,76.52 L263.90,76.95 L264.57,77.39 L265.25,77.81 L265.92,78.24 L266.60,78.67 L267.28,79.09 L267.96,79.51 L268.64,79.93 L269.33,80.34 L270.01,80.76 L270.70,81.17 L271.38,81.58 L272.07,81.99 L272.76,82.39 L273.45,82.80 L274.15,83.20 L274.84,83.60 L275.53,84.00 L276.23,84.39 L276.93,84.78 L277.62,85.18 L278.32,85.57 L279.02,85.95 L279.72,86.34 L280.43,86.72 L281.13,87.10 L281.83,87.48 L282.54,87.86 L283.25,88.24 L283.95,88.61 L284.66,88.98 L285.37,89.35 L286.08,89.72 L286.79,90.09 L287.50,90.45 L288.22,90.82 L288.93,91.18 L289.65,91.54 L290.36,91.90 L291.08,92.25 L291.80,92.61 L292.51,92.96 L293.23,93.31 L293.95,93.66 L294.67,94.01 L295.39,94.36 L296.12,94.70 L296.84,95.04 L297.56,95.39 L298.29,95.73 L299.01,96.07 L299.74,96.40 L300.46,96.74 L301.19,97.08 L301.92,97.41 L302.65,97.74 L303.37,98.07 L304.10,98.40 L304.83,98.73 L305.56,99.06 L306.29,99.38 L307.02,99.71 L307.76,100.03 L308.49,100.36 L309.22,100.68 L309.95,101.00 L310.69,101.32 L311.42,101.64 L312.16,101.95 L312.89,102.27 L313.63,102.59 L314.36,102.90 L315.10,103.22 L315.83,103.53 L316.57,103.84 L317.31,104.16 L318.04,104.47 L318.78,104.78 L319.52,105.09 L320.26,105.40 L321.00,105.71 L321.73,106.01 L322.47,106.32 L323.21,106.63 L323.95,106.94 L324.69,107.24 L325.43,107.55 L326.17,107.86 L326.91,108.16 L327.65,108.47 L328.39,108.77 L329.13,109.08 L329.87,109.38 L330.61,109.69 L331.35,109.99 L332.09,110.30 L332.83,110.60 L333.57,110.91 L334.31,111.21 L335.05,111.52 L335.79,111.82 L336.53,112.12 L337.27,112.43 L338.01,112.73 L338.75,113.04 L339.49,113.34 L340.23,113.64 L340.97,113.95 L341.71,114.25 L342.45,114.56 L343.19,114.86 L343.93,115.16 L344.67,115.47 L345.41,115.77 L346.15,116.07 L346.89,116.38 L347.63,116.68 L348.37,116.98 L349.11,117.29 L349.85,117.59 L350.59,117.89 L351.33,118.19 L352.07,118.50 L352.81,118.80 L353.56,119.10 L354.30,119.41 L355.04,119.71 L355.78,120.01 L356.52,120.31 L357.26,120.62 L358.00,120.92 L358.74,121.22 L359.48,121.52 L360.22,121.82 L360.96,122.13 L361.71,122.43 L362.45,122.73 L363.19,123.03 L363.93,123.33 L364.67,123.64 L365.41,123.94 L366.15,124.24 L366.89,124.54 L367.63,124.84 L368.38,125.14 L369.12,125.45 L369.86,125.75 L370.60,126.05 L371.34,126.35 L372.08,126.65 L372.82,126.95 L373.56,127.25 L374.31,127.55 L375.05,127.85 L375.79,128.16 L376.53,128.46 L377.27,128.76 L378.01,129.06 L378.75,129.36 L379.50,129.66 L380.24,129.96 L380.98,130.26 L381.72,130.56 L382.46,130.86 L383.20,131.16 L383.95,131.46 L384.69,131.76 L385.43,132.06 L386.17,132.36 L386.91,132.66 L387.65,132.96 L388.40,133.26 L389.14,133.56 L389.88,133.86 L390.62,134.16 L391.36,134.46 L392.11,134.76 L392.85,135.06 L393.59,135.36 L394.33,135.66 L395.07,135.96 L395.82,136.26 L396.56,136.56 L397.30,136.86 L398.04,137.16 L398.78,137.46 L399.53,137.76 L400.27,138.06 L401.01,138.36 L401.75,138.66 L402.49,138.96 L403.24,139.26 L403.98,139.56 L404.72,139.85 L405.46,140.15 L406.20,140.45 L406.95,140.75 L407.69,141.05 L408.43,141.35 L409.17,141.65 L409.92,141.95 L410.66,142.25 L411.40,142.54 L412.14,142.84 L412.89,143.14 L413.63,143.44 L414.37,143.74 L415.11,144.04 L415.86,144.34 L416.60,144.63 L417.34,144.93 L418.08,145.23 L418.83,145.53 L419.57,145.83 L420.31,146.13 L421.05,146.42 L421.80,146.72 L422.54,147.02 L423.28,147.32 L424.02,147.62 L424.77,147.92 L425.51,148.21 L426.25,148.51 L426.99,148.81 L427.74,149.11 L428.48,149.41 L429.22,149.70 L429.96,150.00 L430.71,150.30 L431.45,150.60 L432.19,150.89 L432.93,151.19 L433.68,151.49 L434.42,151.79 L435.16,152.09 L435.91,152.38 L436.65,152.68 L437.39,152.98 L438.13,153.28 L438.88,153.57 L439.62,153.87 L440.36,154.17 L441.11,154.47 L441.85,154.76 L442.59,155.06 L443.33,155.36 L444.08,155.66 L444.82,155.95 L445.56,156.25 L446.31,156.55 L447.05,156.85 L447.79,157.14 L448.53,157.44 L449.28,157.74 L450.02,158.04 L450.76,158.33 L451.50,158.63 L452.25,158.93 L452.99,159.23 L453.73,159.53 L454.47,159.83 L455.22,160.12 L455.96,160.42 L456.70,160.72 L457.44,161.02 L458.19,161.32 L458.93,161.62 L459.67,161.92 L460.41,162.22 L461.15,162.52 L461.89,162.82 L462.64,163.12 L463.38,163.43 L464.12,163.73 L464.86,164.03 L465.60,164.33 L466.34,164.63 L467.08,164.94 L467.82,165.24 L468.56,165.54 L469.30,165.85 L470.04,166.15 L470.78,166.46 L471.52,166.76 L472.26,167.07 L473.00,167.38 L473.74,167.68 L474.48,167.99 L475.22,168.30 L475.96,168.60 L476.69,168.91 L477.43,169.22 L478.17,169.53 L478.91,169.84 L479.65,170.15 L480.38,170.46 L481.12,170.77 L481.86,171.09 L482.59,171.40 L483.33,171.71 L484.07,172.03 L484.80,172.34 L485.54,172.66 L486.27,172.97 L487.01,173.29 L487.74,173.60 L488.48,173.92 L489.21,174.24 L489.94,174.56 L490.68,174.88 L491.41,175.20 L492.14,175.52 L492.88,175.84 L493.61,176.16 L494.34,176.49 L495.07,176.81 L495.81,177.13 L496.54,177.46 L497.27,177.78 L498.00,178.11 L498.73,178.44 L499.46,178.77 L500.19,179.10 L500.92,179.42 L501.65,179.76 L502.37,180.09 L503.10,180.42 L503.83,180.75 L504.56,181.09 L505.28,181.42 L506.01,181.76 L506.74,182.09 L507.46,182.43 L508.19,182.77 L508.91,183.11 L509.64,183.45 L510.36,183.79 L511.08,184.13 L511.81,184.47 L512.53,184.81 L513.25,185.16 L513.97,185.50 L514.70,185.85 L515.42,186.20 L516.14,186.54 L516.86,186.89 L517.58,187.24 L518.30,187.59 L519.02,187.95 L519.73,188.30 L520.45,188.65 L521.17,189.01 L521.89,189.36 L522.60,189.72 L523.32,190.08 L524.03,190.44 L524.75,190.80 L525.46,191.16 L526.17,191.52 L526.89,191.88 L527.60,192.25 L528.31,192.61 L529.02,192.98 L529.73,193.35 L530.44,193.71 L531.15,194.08 L531.86,194.45 L532.57,194.83 L533.28,195.20 L533.99,195.57 L534.69,195.95 L535.40,196.32 L536.11,196.70 L536.81,197.08 L537.52,197.46 L538.22,197.84 L538.92,198.22 L539.63,198.60 L540.33,198.99 L541.03,199.37 L541.73,199.76 L542.43,200.15 L543.13,200.54 L543.83,200.93 L544.53,201.32 L545.22,201.71 L545.92,202.10 L546.62,202.50 L547.31,202.89 L548.01,203.29 L548.70,203.69 L549.40,204.09 L550.09,204.49 L550.78,204.89 L551.47,205.29 L552.16,205.69 L552.85,206.10 L553.54,206.51 L554.23,206.91 L554.92,207.32 L555.61,207.73 L556.29,208.14 L556.98,208.56 L557.66,208.97 L558.35,209.39 L559.03,209.80 L559.71,210.22 L560.40,210.64 L561.08,211.06 L561.76,211.48 L562.44,211.90 L563.12,212.32 L563.79,212.75 L564.47,213.18 L565.15,213.60 L565.82,214.03 L566.50,214.46 L567.17,214.89 L567.85,215.32 L568.52,215.76 L569.19,216.19 L569.86,216.63 L570.53,217.07 L571.20,217.50 L571.87,217.94 L572.54,218.38 L573.20,218.83 L573.87,219.27 L574.54,219.72 L575.20,220.16 L575.86,220.61 L576.53,221.06 L577.19,221.51 L577.85,221.96 L578.51,222.41 L579.17,222.86 L579.83,223.32 L580.48,223.77 L581.14,224.23 L581.80,224.69 L582.45,225.15 L583.10,225.61 L583.76,226.07 L584.41,226.54 L585.06,227.00 L585.71,227.47 L586.36,227.94 L587.01,228.41 L587.66,228.88 L588.30,229.35 L588.95,229.82 L589.59,230.29 L590.24,230.77 L590.88,231.25 L591.52,231.72 L592.16,232.20 L592.80,232.68 L593.44,233.16 L594.08,233.65 L594.72,234.13 L595.35,234.62 L595.99,235.10 L596.62,235.59 L597.26,236.08 L597.89,236.57 L598.52,237.06 L599.15,237.55 L599.78,238.04 L600.41,238.54 L601.04,239.03 L601.67,239.53 L602.30,240.02 L602.93,240.52 L603.56,241.01 L604.18,241.51 L604.81,242.01 L605.44,242.51 L606.06,243.00 L606.69,243.50 L607.31,244.00 L607.94,244.50 L608.57,245.00 L609.19,245.50 L609.82,246.00 L610.44,246.49 L611.07,246.99 L611.70,247.49 L612.32,247.99 L612.95,248.49 L613.58,248.98 L614.20,249.48 L614.83,249.98 L615.46,250.47 L616.09,250.97 L616.72,251.46 L617.35,251.95 L617.98,252.45 L618.61,252.94 L619.24,253.43 L619.88,253.92 L620.51,254.41 L621.14,254.89 L621.78,255.38 L622.42,255.87 L623.05,256.35 L623.69,256.83 L624.33,257.31 L624.97,257.79 L625.61,258.27 L626.26,258.75 L626.90,259.22 L627.55,259.69 L628.20,260.16 L628.84,260.63 L629.49,261.10 L630.15,261.56 L630.80,262.02 L631.45,262.48 L632.11,262.94 L632.77,263.39 L633.43,263.85 L634.09,264.29 L634.76,264.74 L635.42,265.18 L636.09,265.62 L636.76,266.06 L637.44,266.49 L638.11,266.92 L638.79,267.35 L639.47,267.77 L640.15,268.19 L640.84,268.60 L641.52,269.01 L642.21,269.42 L642.90,269.82 L643.60,270.22 L644.30,270.61 L645.00,271.00 L645.70,271.38 L646.41,271.76 L647.12,272.13 L647.83,272.49 L648.54,272.85 L649.26,273.20 L649.98,273.55 L650.71,273.89 L651.44,274.22 L652.17,274.55 L652.90,274.87" stroke="#ff00ff" stroke-width="1.7" stroke-dasharray="1 1.34"/>
</g>
<g><text x="67.00" y="451.0" text-anchor="middle">0</text><text x="140.29" y="451.0" text-anchor="middle">1</text><text x="213.57" y="451.0" text-anchor="middle">2</text><text x="286.86" y="451.0" text-anchor="middle">3</text><text x="360.15" y="451.0" text-anchor="middle">4</text><text x="433.44" y="451.0" text-anchor="middle">5</text><text x="506.72" y="451.0" text-anchor="middle">6</text><text x="580.01" y="451.0" text-anchor="middle">7</text><text x="653.30" y="451.0" text-anchor="middle">8</text></g>
<g><text x="59.2" y="437.90" text-anchor="end">0</text><text x="59.2" y="385.70" text-anchor="end">0.01</text><text x="59.2" y="333.50" text-anchor="end">0.02</text><text x="59.2" y="281.30" text-anchor="end">0.03</text><text x="59.2" y="229.10" text-anchor="end">0.04</text><text x="59.2" y="176.90" text-anchor="end">0.05</text><text x="59.2" y="124.70" text-anchor="end">0.06</text><text x="59.2" y="72.50" text-anchor="end">0.07</text><text x="59.2" y="20.30" text-anchor="end">0.08</text></g>
<text x="360.5" y="470.2" text-anchor="middle">E [fm^-1]</text>
<text transform="translate(16.9,224.3) rotate(-90)" text-anchor="middle">F(E)</text>
</svg>
</body></html>
